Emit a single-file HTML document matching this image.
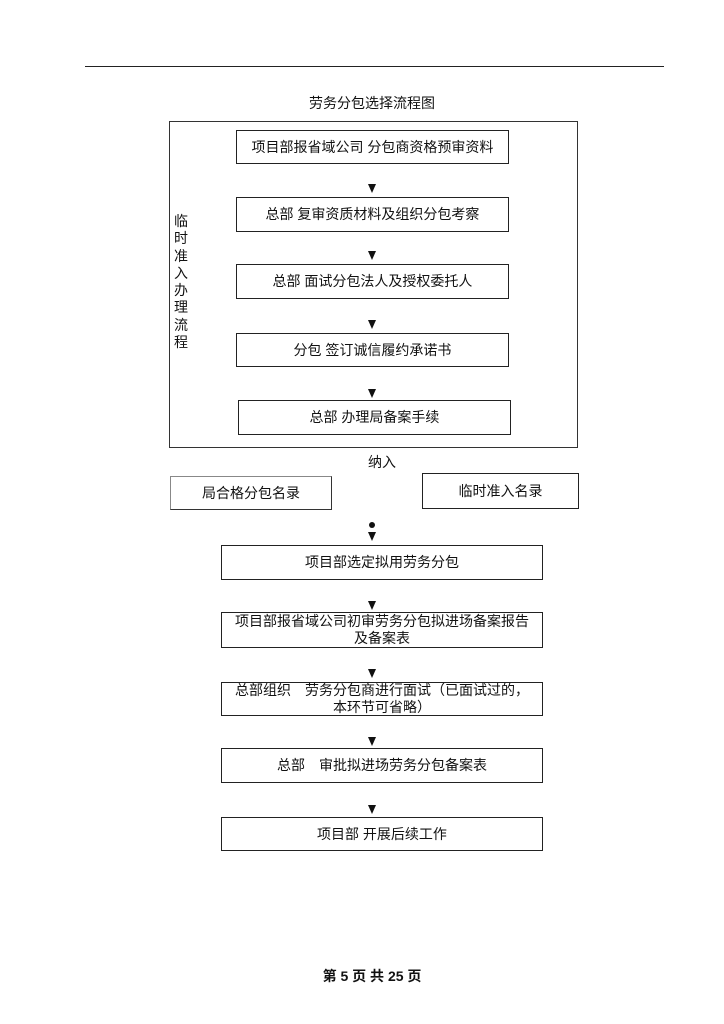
<!DOCTYPE html>
<html><head><meta charset="utf-8"><style>
body{margin:0;background:#fff;}
#p{position:relative;width:724px;height:1024px;overflow:hidden;font-family:"Liberation Sans","Noto Sans CJK SC",sans-serif;color:#111;}
.a{position:absolute;}
.b{position:absolute;border:1px solid #222;box-sizing:border-box;display:flex;align-items:center;justify-content:center;text-align:center;font-size:14px;line-height:17px;background:#fff;}
.t{position:absolute;width:0;height:0;border-left:4px solid transparent;border-right:4px solid transparent;border-top:9px solid #111;}
</style></head><body><div id="p">
<div class="a" style="left:85px;top:66px;width:579px;height:0;border-top:1.5px solid #222"></div>
<div class="a" style="left:272px;top:93px;width:200px;text-align:center;font-size:14px">劳务分包选择流程图</div>
<div class="a" style="left:169px;top:121px;width:409px;height:327px;border:1px solid #333;box-sizing:border-box"></div>
<div class="a" style="left:174px;top:213px;width:16px;font-size:14px;line-height:17.3px">临<br>时<br>准<br>入<br>办<br>理<br>流<br>程</div>
<div class="b" style="left:236px;top:130px;width:273px;height:34px">项目部报省域公司 分包商资格预审资料</div>
<div class="t" style="left:368px;top:184px"></div>
<div class="b" style="left:236px;top:197px;width:273px;height:35px">总部 复审资质材料及组织分包考察</div>
<div class="t" style="left:368px;top:251px"></div>
<div class="b" style="left:236px;top:264px;width:273px;height:35px">总部 面试分包法人及授权委托人</div>
<div class="t" style="left:368px;top:320px"></div>
<div class="b" style="left:236px;top:333px;width:273px;height:34px">分包 签订诚信履约承诺书</div>
<div class="t" style="left:368px;top:389px"></div>
<div class="b" style="left:238px;top:400px;width:273px;height:35px">总部 办理局备案手续</div>
<div class="a" style="left:368px;top:452px;font-size:14px">纳入</div>
<div class="b" style="left:170px;top:476px;width:162px;height:34px;border-color:#888 #333 #333 #888">局合格分包名录</div>
<div class="b" style="left:422px;top:473px;width:157px;height:36px">临时准入名录</div>
<div class="a" style="left:369px;top:522px;width:6px;height:6px;border-radius:50%;background:#111"></div>
<div class="t" style="left:368px;top:532px"></div>
<div class="b" style="left:221px;top:545px;width:322px;height:35px">项目部选定拟用劳务分包</div>
<div class="t" style="left:368px;top:601px"></div>
<div class="b" style="left:221px;top:612px;width:322px;height:36px">项目部报省域公司初审劳务分包拟进场备案报告<br>及备案表</div>
<div class="t" style="left:368px;top:669px"></div>
<div class="b" style="left:221px;top:682px;width:322px;height:34px">总部组织　劳务分包商进行面试（已面试过的，<br>本环节可省略）</div>
<div class="t" style="left:368px;top:737px"></div>
<div class="b" style="left:221px;top:748px;width:322px;height:35px">总部　审批拟进场劳务分包备案表</div>
<div class="t" style="left:368px;top:805px"></div>
<div class="b" style="left:221px;top:817px;width:322px;height:34px">项目部 开展后续工作</div>
<div class="a" style="left:272px;top:966px;width:200px;text-align:center;font-size:14px;font-weight:bold">第 5 页 共 25 页</div>
</div></body></html>
